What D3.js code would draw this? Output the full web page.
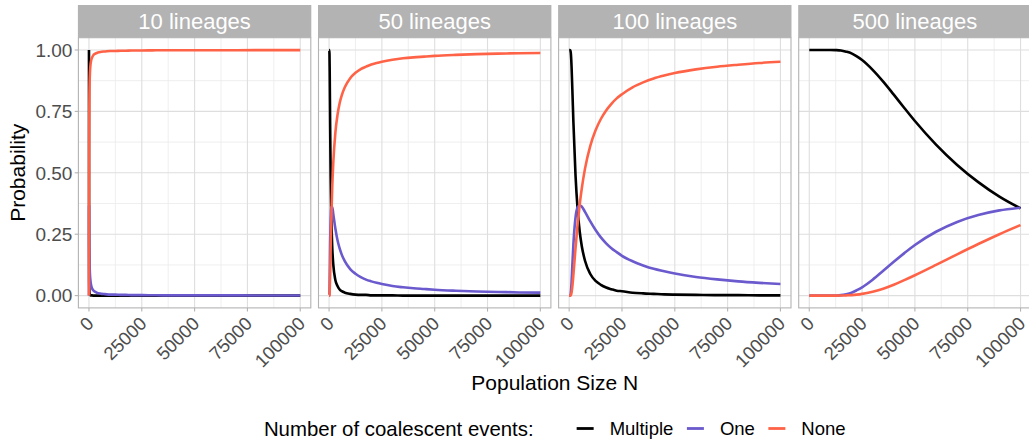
<!DOCTYPE html>
<html>
<head>
<meta charset="utf-8">
<script src="https://cdn.jsdelivr.net/npm/d3@7"></script>
<style>
  body { margin: 0; background: #fff; }
  svg { display: block; font-family: "Liberation Sans", Arial, sans-serif; }
</style>
</head>
<body>
<svg id="chart"></svg>
<script>
// Data
const facets = ["10 lineages", "50 lineages", "100 lineages", "500 lineages"];
const seriesNames = ["Multiple", "One", "None"];
const popSize = [1, 10, 25, 50, 100, 200, 300, 500, 750, 1000, 1500, 2000, 3000, 4000, 5000, 6000, 7500,
  10000, 12500, 15000, 17500, 20000, 22500, 25000, 30000, 35000, 40000, 45000, 50000,
  60000, 70000, 80000, 90000, 100000];

// 10 lineages
const multi10 = [1, 0.939, 0.537, 0.227, 0.075, 0.021, 0.010, 0.004, 0.001, 0.001, 0.001, 0, 0, 0, 0, 0, 0,
  0, 0, 0, 0, 0, 0, 0, 0, 0, 0, 0, 0, 0, 0, 0, 0, 0];
const one10 = [0, 0.050, 0.298, 0.366, 0.287, 0.180, 0.129, 0.082, 0.057, 0.043, 0.029, 0.022, 0.015, 0.011, 0.009, 0.007, 0.006,
  0.004, 0.004, 0.003, 0.003, 0.002, 0.002, 0.002, 0.0015, 0.001, 0.001, 0.001, 0.001, 0.001, 0.001, 0.0006, 0.0005, 0.0004];
const none10 = [0, 0.011, 0.165, 0.407, 0.638, 0.799, 0.861, 0.914, 0.942, 0.956, 0.970, 0.978, 0.985, 0.989, 0.991, 0.993, 0.994,
  0.996, 0.996, 0.997, 0.997, 0.998, 0.998, 0.998, 0.9985, 0.999, 0.999, 0.999, 0.999, 0.999, 0.999, 0.9994, 0.9995, 0.9996];

// 50 lineages
const multi50 = [1, 1, 1, 1, 1, 0.985, 0.914, 0.703, 0.486, 0.346, 0.197, 0.126, 0.063, 0.039, 0.025, 0.018, 0.012,
  0.007, 0.004, 0.003, 0.003, 0.001, 0.001, 0.001, 0.001, 0, 0, 0, 0, 0, 0, 0, 0, 0];
const one50 = [0, 0, 0, 0, 0, 0.013, 0.069, 0.211, 0.319, 0.360, 0.361, 0.332, 0.272, 0.225, 0.192, 0.167, 0.139,
  0.108, 0.089, 0.075, 0.065, 0.058, 0.052, 0.047, 0.039, 0.034, 0.030, 0.027, 0.024, 0.020, 0.017, 0.015, 0.013, 0.012];
const none50 = [0, 0, 0, 0, 0, 0.002, 0.017, 0.086, 0.195, 0.294, 0.442, 0.542, 0.665, 0.736, 0.783, 0.815, 0.849,
  0.885, 0.907, 0.922, 0.932, 0.941, 0.947, 0.952, 0.960, 0.966, 0.970, 0.973, 0.976, 0.980, 0.983, 0.985, 0.987, 0.988];

// 100 lineages
const multi100 = [1, 1, 1, 1, 1, 1, 1, 0.999, 0.990, 0.958, 0.841, 0.708, 0.491, 0.351, 0.260, 0.200, 0.142,
  0.088, 0.060, 0.044, 0.033, 0.026, 0.020, 0.018, 0.012, 0.009, 0.007, 0.005, 0.004, 0.003, 0.002, 0.002, 0.001, 0.001];
const one100 = [0, 0, 0, 0, 0, 0, 0, 0.001, 0.009, 0.035, 0.122, 0.208, 0.317, 0.359, 0.368, 0.362, 0.341,
  0.302, 0.267, 0.237, 0.213, 0.193, 0.177, 0.162, 0.140, 0.123, 0.109, 0.099, 0.090, 0.076, 0.066, 0.058, 0.052, 0.047];
const none100 = [0, 0, 0, 0, 0, 0, 0, 0, 0.001, 0.007, 0.037, 0.084, 0.192, 0.290, 0.372, 0.438, 0.517,
  0.610, 0.673, 0.719, 0.754, 0.781, 0.803, 0.820, 0.848, 0.868, 0.884, 0.896, 0.906, 0.921, 0.932, 0.940, 0.947, 0.952];

// 500 lineages
const multi500 = [1, 1, 1, 1, 1, 1, 1, 1, 1, 1, 1, 1, 1, 1, 1, 1, 1,
  1, 0.9995, 0.998, 0.993, 0.986, 0.974, 0.959, 0.919, 0.871, 0.818, 0.764, 0.711, 0.615, 0.532, 0.462, 0.403, 0.355];
const one500 = [0, 0, 0, 0, 0, 0, 0, 0, 0, 0, 0, 0, 0, 0, 0, 0, 0,
  0, 0.0005, 0.002, 0.006, 0.012, 0.022, 0.034, 0.065, 0.101, 0.138, 0.173, 0.206, 0.260, 0.300, 0.328, 0.347, 0.358];
const none500 = [0, 0, 0, 0, 0, 0, 0, 0, 0, 0, 0, 0, 0, 0, 0, 0, 0,
  0, 0, 0.0002, 0.001, 0.002, 0.004, 0.007, 0.016, 0.028, 0.044, 0.063, 0.083, 0.125, 0.168, 0.210, 0.250, 0.287];

const panelSeries = [
  [multi10, one10, none10],
  [multi50, one50, none50],
  [multi100, one100, none100],
  [multi500, one500, none500]
];

const xTicks = [0, 25000, 50000, 75000, 100000];
const xMinor = [12500, 37500, 62500, 87500];
const yTicks = [0, 0.25, 0.5, 0.75, 1];
const yMinor = [0.125, 0.375, 0.625, 0.875];

// Layout
const width = 1029, height = 444;
const panelLeft = 78.4, panelW = 232.4, panelStep = 240.1;
const plotTop = 37.7, plotBottom = 307.9;
const stripTop = 5;

const colorScale = d3.scaleOrdinal()
  .domain(seriesNames)
  .range(["#000000", "#6A5ACD", "#FF6347"]);

const svg = d3.select("#chart")
  .attr("width", width)
  .attr("height", height);

const y = d3.scaleLinear()
  .domain([-0.05, 1.05])
  .range([plotBottom, plotTop]);

facets.forEach((facet, i) => {
  const left = panelLeft + i * panelStep;
  const x = d3.scaleLinear()
    .domain([-5000, 105000])
    .range([left, left + panelW]);

  const g = svg.append("g");

  // minor grid
  g.selectAll(".xminor").data(xMinor).enter().append("line")
    .attr("x1", d => x(d)).attr("x2", d => x(d))
    .attr("y1", plotTop).attr("y2", plotBottom)
    .attr("stroke", "#ebebeb").attr("stroke-width", 0.8);
  g.selectAll(".yminor").data(yMinor).enter().append("line")
    .attr("x1", left).attr("x2", left + panelW)
    .attr("y1", d => y(d)).attr("y2", d => y(d))
    .attr("stroke", "#ebebeb").attr("stroke-width", 0.8);

  // major grid
  g.selectAll(".xmajor").data(xTicks).enter().append("line")
    .attr("x1", d => x(d)).attr("x2", d => x(d))
    .attr("y1", plotTop).attr("y2", plotBottom)
    .attr("stroke", "#dedede").attr("stroke-width", 1.1);
  g.selectAll(".ymajor").data(yTicks).enter().append("line")
    .attr("x1", left).attr("x2", left + panelW)
    .attr("y1", d => y(d)).attr("y2", d => y(d))
    .attr("stroke", "#dedede").attr("stroke-width", 1.1);

  // lines
  const line = d3.line()
    .x((d, j) => x(popSize[j]))
    .y(d => y(d))
    .curve(d3.curveMonotoneX);

  panelSeries[i].forEach((vals, s) => {
    g.append("path")
      .datum(vals)
      .attr("d", line)
      .attr("fill", "none")
      .attr("stroke", colorScale(seriesNames[s]))
      .attr("stroke-width", 2.6)
      .attr("stroke-linejoin", "round");
  });

  // border
  g.append("rect")
    .attr("x", left).attr("y", plotTop)
    .attr("width", panelW).attr("height", plotBottom - plotTop)
    .attr("fill", "none")
    .attr("stroke", "#b3b3b3").attr("stroke-width", 1.1);

  // strip
  g.append("rect")
    .attr("x", left - 0.5).attr("y", stripTop)
    .attr("width", panelW + 1).attr("height", plotTop - stripTop)
    .attr("fill", "#b3b3b3");
  g.append("text")
    .attr("x", left + panelW / 2)
    .attr("y", (stripTop + plotTop) / 2)
    .attr("dy", "0.36em")
    .attr("text-anchor", "middle")
    .attr("fill", "#ffffff")
    .attr("font-size", 22)
    .text(facet);

  // x axis ticks
  g.selectAll(".xtick").data(xTicks).enter().append("line")
    .attr("x1", d => x(d)).attr("x2", d => x(d))
    .attr("y1", plotBottom).attr("y2", plotBottom + 3.7)
    .attr("stroke", "#b3b3b3").attr("stroke-width", 1.1);
  g.selectAll(".xlab").data(xTicks).enter().append("text")
    .attr("transform", d => `translate(${x(d) - 3.5},${plotBottom + 7.5}) rotate(-45)`)
    .attr("dy", "0.72em")
    .attr("text-anchor", "end")
    .attr("fill", "#4d4d4d")
    .attr("font-size", 18.5)
    .text(d => d);

  // y axis on first panel
  if (i === 0) {
    g.selectAll(".ytick").data(yTicks).enter().append("line")
      .attr("x1", left - 3.7).attr("x2", left)
      .attr("y1", d => y(d)).attr("y2", d => y(d))
      .attr("stroke", "#b3b3b3").attr("stroke-width", 1.1);
    g.selectAll(".ylab").data(yTicks).enter().append("text")
      .attr("x", left - 6)
      .attr("y", d => y(d))
      .attr("dy", "0.36em")
      .attr("text-anchor", "end")
      .attr("fill", "#4d4d4d")
      .attr("font-size", 19)
      .text(d => d3.format(".2f")(d));
  }
});

// Axis titles
const centerX = (panelLeft + panelLeft + 3 * panelStep + panelW) / 2;
svg.append("text")
  .attr("x", centerX)
  .attr("y", 390)
  .attr("text-anchor", "middle")
  .attr("font-size", 21)
  .attr("fill", "#000")
  .text("Population Size N");

svg.append("text")
  .attr("transform", `translate(25,${(plotTop + plotBottom) / 2}) rotate(-90)`)
  .attr("text-anchor", "middle")
  .attr("font-size", 21)
  .attr("fill", "#000")
  .text("Probability");

// Legend
const legend = svg.append("g");
const legY = 428.5;
const keyLen = 17, keyGap = 16, itemGap = 13.5;
const title = legend.append("text")
  .attr("x", 0).attr("y", legY)
  .attr("dy", "0.36em")
  .attr("font-size", 20.4)
  .attr("fill", "#000")
  .text("Number of coalescent events:");
let cursor = title.node().getComputedTextLength() + 43;
seriesNames.forEach(name => {
  legend.append("line")
    .attr("x1", cursor).attr("x2", cursor + keyLen)
    .attr("y1", legY).attr("y2", legY)
    .attr("stroke", colorScale(name))
    .attr("stroke-width", 2.8);
  const t = legend.append("text")
    .attr("x", cursor + keyLen + keyGap).attr("y", legY)
    .attr("dy", "0.36em")
    .attr("font-size", 18.5)
    .attr("fill", "#000")
    .text(name);
  cursor += keyLen + keyGap + t.node().getComputedTextLength() + itemGap;
});
const legW = cursor - itemGap;
legend.attr("transform", `translate(${centerX - legW / 2},0)`);
</script>
</body>
</html>
